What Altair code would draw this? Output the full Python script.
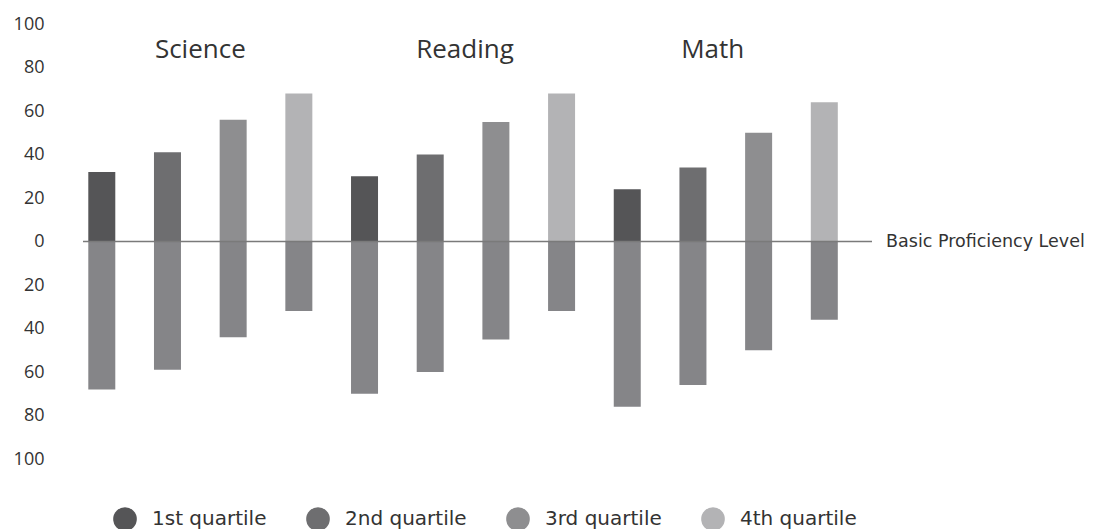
import altair as alt
import pandas as pd

subjects = ["Science", "Reading", "Math"]
quartiles = ["1st quartile", "2nd quartile", "3rd quartile", "4th quartile"]
above = [32, 41, 56, 68, 30, 40, 55, 68, 24, 34, 50, 64]
below = [68, 59, 44, 32, 70, 60, 45, 32, 76, 66, 50, 36]
colors = ["#555557", "#6e6e70", "#8e8e90", "#b3b3b5"]
below_color = "#858588"
title_pos = [1.5, 5.53, 9.3]
title_level = 88
tick_values = list(range(-100, 101, 20))

rows = []
for s_i, s in enumerate(subjects):
    for q_i, q in enumerate(quartiles):
        k = s_i * 4 + q_i
        rows.append({"idx": k, "subject": s, "quartile": q, "part": q, "value": above[k]})
        rows.append({"idx": k, "subject": s, "quartile": q, "part": "below", "value": -below[k]})
df = pd.DataFrame(rows)
titles = pd.DataFrame({"x": title_pos, "label": subjects, "y": [title_level] * 3})

xscale = alt.Scale(domain=[-0.21, 11.65], nice=False, zero=False)
yscale = alt.Scale(domain=[-100, 100], nice=False)

bars = alt.Chart(df).mark_bar(width=27).encode(
    x=alt.X("idx:Q", scale=xscale, axis=None),
    y=alt.Y("value:Q", scale=yscale,
            axis=alt.Axis(values=tick_values, labelExpr="'' + abs(datum.value)", title=None)),
    y2=alt.datum(0),
    color=alt.Color("part:N", scale=alt.Scale(domain=quartiles + ["below"], range=colors + [below_color]),
                    legend=alt.Legend(title=None, orient="none", direction="horizontal",
                                      legendX=29, legendY=482, values=quartiles, padding=0,
                                      symbolType="circle", symbolSize=560, symbolOpacity=1,
                                      labelFontSize=20, labelFont="DejaVu Sans",
                                      labelColor="#333333", labelOffset=14, columnPadding=38)),
)

zero_rule = alt.Chart(pd.DataFrame({"v": [0]})).mark_rule(color="#7a7a7a", strokeWidth=1.5).encode(
    y=alt.Y("v:Q", scale=yscale)
)

title_text = alt.Chart(titles).mark_text(fontSize=26, font="Open Sans", color="#333333").encode(
    x=alt.X("x:Q", scale=xscale),
    y=alt.Y("y:Q", scale=yscale),
    text="label:N",
)

basic = alt.Chart(pd.DataFrame({"x": [11.94], "y": [0], "t": ["Basic Proficiency Level"]})).mark_text(
    align="left", baseline="middle", fontSize=17.5, font="DejaVu Sans", color="#333333"
).encode(
    x=alt.X("x:Q", scale=xscale),
    y=alt.Y("y:Q", scale=yscale),
    text="t:N",
)

chart = alt.layer(bars, zero_rule, title_text, basic).properties(
    width=789, height=435, padding={"left": 5, "top": 7, "right": 5, "bottom": 5}
).configure_view(stroke=None).configure_axisY(
    domain=False, ticks=False, grid=False, title=None,
    labelFontSize=18, labelColor="#333333", labelFont="Open Sans", labelPadding=39
)

chart.save("out.html", embed_options={"renderer": "svg", "actions": False})
